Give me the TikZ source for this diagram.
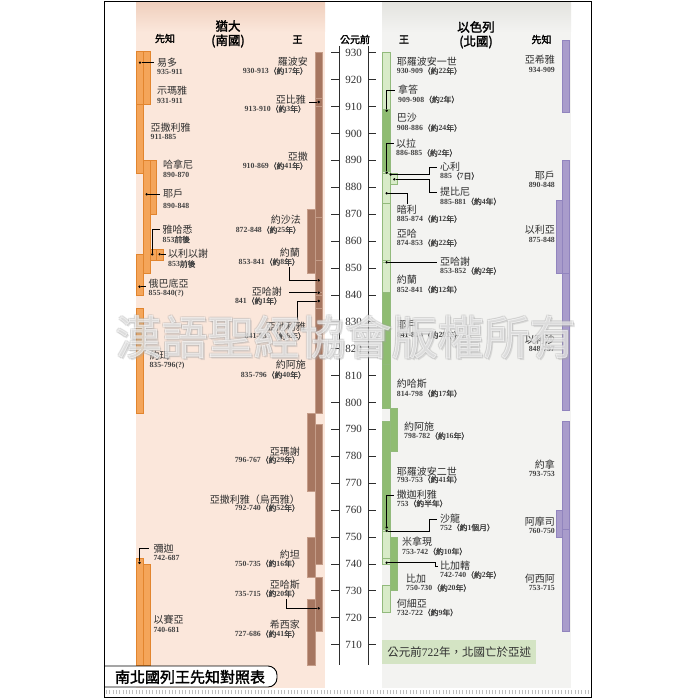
\documentclass[tikz,border=0pt]{standalone}
\usepackage{fontspec}
\setmainfont{Liberation Serif}
\newfontfamily\cjk{Noto Sans CJK TC}[AutoFakeBold=2]
\usetikzlibrary{calc}
\definecolor{pinkbg}{HTML}{FBE7DB}
\definecolor{pinktop}{HTML}{F0D0BE}
\definecolor{graybg}{HTML}{F3F3F1}
\definecolor{graytop}{HTML}{E4E4E0}
\definecolor{orF}{HTML}{F4A55A}
\definecolor{orD}{HTML}{E2852E}
\definecolor{brF}{HTML}{A67660}
\definecolor{brL}{HTML}{C49C88}
\definecolor{grL}{HTML}{D8EBC8}
\definecolor{grM}{HTML}{8FBC72}
\definecolor{grD}{HTML}{92BA7C}
\definecolor{puF}{HTML}{A99CCB}
\definecolor{puD}{HTML}{9184BE}
\definecolor{banner}{HTML}{D4E4C4}
\definecolor{txt}{HTML}{2E2E2E}
\newcommand\YY[1]{(52.7+(930-(#1))*2.69)}
\newcommand\dd[2]{#1{\cjk （約}#2{\cjk 年）}}
\newcommand\vb[5]{\draw[#1] (#2,{\YY{#4}}) rectangle (#3,{\YY{#5}});}
\newcommand\labE[6]{\node[kn,anchor=east] (n#1) at (#2,#3) {#4}; \node[kd,anchor=east] (t#1) at (#2,#5) {#6};}
\newcommand\labW[6]{\node[kn,anchor=west] (n#1) at (#2,#3) {#4}; \node[kd,anchor=west] (t#1) at (#2,#5) {#6};}
\begin{document}
\begin{tikzpicture}[x=1pt,y=-1pt,
  kn/.style={font=\cjk\fontsize{10}{12}\selectfont, inner sep=0pt, text=txt},
  kd/.style={font=\bfseries\fontsize{7.8}{10}\selectfont, inner sep=0pt, text=txt!90},
  hd/.style={font=\cjk\bfseries\fontsize{10}{12}\selectfont, inner sep=0pt, text=black},
  hb/.style={font=\cjk\bfseries\fontsize{12.5}{14}\selectfont, inner sep=0pt, text=black},
  dotm/.style={circle, fill=black, inner sep=0pt, minimum size=2.6pt},
  conn/.style={line width=0.55pt, black},
  orng/.style={fill=orF, draw=orD, line width=0.5pt},
  brn/.style={fill=brF, draw=brL, line width=0.4pt},
  gl/.style={fill=grL, draw=grD, line width=0.5pt},
  gd/.style={fill=grM, draw=grD, line width=0.5pt},
  pur/.style={fill=puF, draw=puD, line width=0.4pt},
  axl/.style={font=\fontsize{11}{12}\selectfont, inner sep=0pt, text=txt},
  wm/.style={font=\cjk\bfseries\fontsize{46}{48}\selectfont, inner sep=0pt},
]
\useasboundingbox (0,0) rectangle (700,700);
\fill[white] (0,0) rectangle (700,700);
% panels
\fill[pinkbg] (136,3) rectangle (325,688);
\shade[top color=pinktop,bottom color=pinkbg] (136,3) rectangle (325,32);
\fill[graybg] (382,3) rectangle (571,688);
\shade[top color=graytop,bottom color=graybg] (382,3) rectangle (571,32);
% headers
\node[hd] (hP1) at (165,38.5) {先知};
\node[hb] (hJ1) at (228,26) {猶大};
\node[hb] (hJ2) at (228,41) {(南國)};
\node[hd] (hK1) at (297.5,39.5) {王};
\node[hd] (hAx) at (355,39.5) {公元前};
\node[hd] (hK2) at (404,39.5) {王};
\node[hb] (hI1) at (476,27) {以色列};
\node[hb] (hI2) at (476,42) {(北國)};
\node[hd] (hP2) at (541.5,39.5) {先知};
% axis
\draw[txt, line width=0.6pt] (339,46) -- (339,665);
\draw[txt, line width=0.6pt] (368,46) -- (368,665);
\foreach \v in {930,920,...,710} {
  \draw[txt, line width=0.6pt] (331,{\YY{\v}}) -- (339,{\YY{\v}});
  \draw[txt, line width=0.6pt] (368,{\YY{\v}}) -- (376,{\YY{\v}});
  \node[axl] (y\v) at (353.5,{\YY{\v}}) {\v};
}
% ---------- Judah prophets bars
\vb{orng}{136.7}{143.3}{930.7}{911}
\vb{orng}{136.7}{143.3}{911}{885}
\vb{orng}{143.3}{150}{930.7}{911}
\vb{orng}{143.3}{150}{890}{848}
\vb{orng}{150}{156.7}{890}{870}
\vb{orng}{150}{156.7}{857}{852.7}
\vb{orng}{156.7}{163.3}{857}{852.7}
\vb{orng}{136.7}{143.3}{855}{840}
\vb{orng}{136.7}{143.3}{835}{796}
\vb{orng}{136.7}{143.3}{742}{702.4}
\vb{orng}{143.3}{150}{740}{702.4}
% ---------- Judah kings bars
\vb{brn}{315}{322.5}{930}{913}
\vb{brn}{315}{322.5}{913}{910}
\vb{brn}{315}{322.5}{910}{869}
\vb{brn}{315}{322.5}{869}{853}
\vb{brn}{315}{322.5}{853}{841}
\vb{brn}{315}{322.5}{841}{840}
\vb{brn}{315}{322.5}{840}{835}
\vb{brn}{315}{322.5}{835}{796}
\vb{brn}{315}{322.5}{792}{740}
\vb{brn}{315}{322.5}{735}{715}
\vb{brn}{307.3}{315}{872}{848}
\vb{brn}{307.3}{315}{796}{767}
\vb{brn}{307.3}{315}{750}{735}
\vb{brn}{307.3}{315}{727}{702.4}
% ---------- Israel kings bars
\vb{gl}{382.3}{390}{930}{909}
\vb{gd}{382.3}{390}{909}{886}
\vb{gl}{382.3}{390}{886}{885}
\vb{gl}{382.3}{390}{885}{874}
\vb{gl}{382.3}{390}{874}{853}
\vb{gl}{382.3}{390}{853}{852}
\vb{gl}{382.3}{390}{852}{841}
\vb{gd}{382.3}{390}{841}{814}
\vb{gd}{382.3}{390}{814}{798}
\vb{gd}{382.3}{390}{793}{753}
\vb{gl}{382.3}{390}{753}{752}
\vb{gl}{382.3}{390}{752}{742}
\vb{gl}{382.3}{390}{742}{740}
\vb{gl}{382.3}{390}{732}{722}
\vb{gl}{390}{397.7}{885}{881}
\vb{gd}{390}{397.7}{798}{782}
\vb{gd}{390}{397.7}{750}{730}
% ---------- Israel prophets bars
\vb{pur}{561.7}{569}{934.5}{908}
\vb{pur}{561.7}{569}{890}{848}
\vb{pur}{561.7}{569}{848}{797}
\vb{pur}{561.7}{569}{793}{753}
\vb{pur}{561.7}{569}{753}{715}
\vb{pur}{556}{562}{875}{848}
\vb{pur}{556}{562}{760}{750}
% ---------- banner
\node[fill=banner, minimum width=154pt, minimum height=24pt, anchor=west, inner sep=0pt,
      font=\cjk\fontsize{11.5}{12}\selectfont, text=txt] (ban) at (382,652) {公元前{\rmfamily 722}年，北國亡於亞述};
% ---------- Judah prophets labels
\labW{Iddo}{157}{62.5}{易多}{71.5}{935-911}
\labW{Shemaiah}{157}{91}{示瑪雅}{100.5}{931-911}
\labW{Azariah}{150.5}{127.5}{亞撒利雅}{137}{911-885}
\labW{Hanani}{163}{165}{哈拿尼}{175}{890-870}
\labW{JehuP}{163}{194}{耶戶}{205.5}{890-848}
\labW{Jahaziel}{162.5}{229.5}{雅哈悉}{239.5}{853{\cjk 前後}}
\labW{Eliezer}{168}{254}{以利以謝}{264}{853{\cjk 前後}}
\labW{Obadiah}{148.5}{284}{俄巴底亞}{293.5}{855-840(?)}
\labW{Joel}{149.3}{356}{約珥}{365.5}{835-796(?)}
\labW{Micah}{153.3}{548.3}{彌迦}{557.5}{742-687}
\labW{Isaiah}{153.3}{620}{以賽亞}{629.5}{740-681}
\node[dotm] (dIddo) at (140,62.7) {};
\node[dotm] (dJehuP) at (146.7,194.3) {};
\node[dotm] (dJahaziel) at (152.3,254.3) {};
\node[dotm] (dEliezer) at (159.6,254.3) {};
\node[dotm] (dObadiah) at (139.5,286.7) {};
\node[dotm] (dMicah) at (139.5,562.7) {};
\draw[conn] (dIddo) -- ($(dIddo -| nIddo.west)+(-3.5,0)$);
\draw[conn] (dJehuP) -- ($(dJehuP -| nJehuP.west)+(-3.5,0)$);
\draw[conn] (dJahaziel) |- ($(nJahaziel.west)+(-3,0)$);
\draw[conn] (dEliezer) -- ($(dEliezer -| nEliezer.west)+(-2.5,0)$);
\draw[conn] (dObadiah) -- ($(dObadiah -| nObadiah.west)+(-2.5,0)$);
\draw[conn] (dMicah) |- ($(nMicah.west)+(-4,0)$);
% ---------- Judah kings labels
\labE{Rehoboam}{308}{61.5}{羅波安}{71}{\dd{930-913}{17}}
\labE{Abijah}{306}{100}{亞比雅}{109}{\dd{913-910}{3}}
\labE{Asa}{308}{157}{亞撒}{166}{\dd{910-869}{41}}
\labE{Jehoshaphat}{301}{220}{約沙法}{230}{\dd{872-848}{25}}
\labE{JoramJ}{300}{252.5}{約蘭}{262}{\dd{853-841}{8}}
\labE{AhaziahJ}{282}{292}{亞哈謝}{301}{\dd{841}{1}}
\labE{Athaliah}{306}{326.5}{亞他利雅}{336}{\dd{841-835}{6}}
\labE{JoashJ}{306}{365}{約阿施}{375}{\dd{835-796}{40}}
\labE{Amaziah}{300}{451.5}{亞瑪謝}{460}{\dd{796-767}{29}}
\labE{Uzziah}{300}{499.5}{亞撒利雅（烏西雅）}{508}{\dd{792-740}{52}}
\labE{Jotham}{300}{554.5}{約坦}{563.5}{\dd{750-735}{16}}
\labE{Ahaz}{300}{584.5}{亞哈斯}{593.5}{\dd{735-715}{20}}
\labE{Hezekiah}{300}{624.5}{希西家}{634}{\dd{727-686}{41}}
\node[dotm] (dAbijah) at (318.7,102) {};
\node[dotm] (dJoramJ) at (318.7,280.3) {};
\node[dotm] (dAhaziahJ) at (318.7,292.7) {};
\node[dotm] (dAthaliah) at (318.7,301) {};
\node[dotm] (dAhaz) at (318.7,608.3) {};
\draw[conn] (dAbijah) -- ($(dAbijah -| nAbijah.east)+(3,0)$);
\draw[conn] (dJoramJ) -| ($(tJoramJ.south east)+(-11,1.5)$);
\draw[conn] (dAhaziahJ) -- ($(dAhaziahJ -| nAhaziahJ.east)+(7,0)$);
\draw[conn] (dAthaliah) -| ($(nAthaliah.north east)+(-9,-2)$);
\draw[conn] (dAhaz) -| ($(tAhaz.south east)+(-14,1.5)$);
% ---------- Israel kings labels
\labW{JeroboamI}{396.7}{61.5}{耶羅波安一世}{71}{\dd{930-909}{22}}
\labW{Nadab}{398}{90}{拿答}{99.5}{\dd{909-908}{2}}
\labW{Baasha}{396.7}{118}{巴沙}{128}{\dd{908-886}{24}}
\labW{Elah}{396}{143.5}{以拉}{153}{\dd{886-885}{2}}
\labW{Zimri}{440}{167}{心利}{176}{885{\cjk （}7{\cjk 日）}}
\labW{Tibni}{440}{192}{提比尼}{201.5}{\dd{885-881}{4}}
\labW{Omri}{396.7}{209.5}{暗利}{219}{\dd{885-874}{12}}
\labW{Ahab}{396.7}{233.5}{亞哈}{243}{\dd{874-853}{22}}
\labW{AhaziahI}{440}{262}{亞哈謝}{271}{\dd{853-852}{2}}
\labW{JoramI}{396.7}{280}{約蘭}{289.5}{\dd{852-841}{12}}
\labW{JehuK}{396.7}{325}{耶戶}{335}{\dd{841-814}{28}}
\labW{Jehoahaz}{396.7}{383.5}{約哈斯}{393.5}{\dd{814-798}{17}}
\labW{JoashI}{404}{427}{約阿施}{436}{\dd{798-782}{16}}
\labW{JeroboamII}{396.7}{471.5}{耶羅波安二世}{479.5}{\dd{793-753}{41}}
\labW{Zechariah}{396.7}{495}{撒迦利雅}{503.5}{753{\cjk （約半年）}}
\labW{Shallum}{440}{519}{沙龍}{527.5}{752{\cjk （約}1{\cjk 個月）}}
\labW{Menahem}{402}{541.5}{米拿現}{551.5}{\dd{753-742}{10}}
\labW{Pekahiah}{440}{566}{比加轄}{575}{\dd{742-740}{2}}
\labW{Pekah}{406}{578.5}{比加}{588}{\dd{750-730}{20}}
\labW{Hoshea}{396.7}{603.5}{何細亞}{612.5}{\dd{732-722}{9}}
\node[dotm] (dNadab) at (386.7,110.7) {};
\node[dotm] (dElah) at (386.7,172.7) {};
\node[dotm] (dZimri) at (390.7,174.5) {};
\node[dotm] (dTibni) at (394.3,179.3) {};
\node[dotm] (dOmri) at (386.7,193.3) {};
\node[dotm] (dAhaziahI) at (386.7,262.3) {};
\node[dotm] (dZechariah) at (386.7,527.3) {};
\node[dotm] (dShallum) at (386.7,530.8) {};
\node[dotm] (dPekahiah) at (386.7,562.7) {};
\draw[conn] (dNadab) |- ($(nNadab.west)+(-3,0)$);
\draw[conn] (dElah) |- ($(nElah.west)+(-2,0)$);
\draw[conn] (dZimri) -| ($(nZimri.west)+(-11,0)$) -- ($(nZimri.west)+(-3,0)$);
\draw[conn] (dTibni) -| ($(nTibni.west)+(-11,0)$) -- ($(nTibni.west)+(-3,0)$);
\draw[conn] (dOmri) -| ($(nOmri.north west)+(10.6,-1)$);
\draw[conn] (dAhaziahI) -- ($(dAhaziahI -| nAhaziahI.west)+(-3,0)$);
\draw[conn] (dZechariah) |- ($(nZechariah.west)+(-3,0)$);
\draw[conn] (dShallum) -| ($(nShallum.west)+(-11,0)$) -- ($(nShallum.west)+(-3,0)$);
\draw[conn] (dPekahiah) -| ($(nPekahiah.west)+(-4.5,0)$) -- ($(nPekahiah.west)+(-2,0)$);
% ---------- Israel prophets labels
\labE{Ahijah}{555}{60}{亞希雅}{69.5}{934-909}
\labE{JehuPI}{555}{175.5}{耶戶}{184.5}{890-848}
\labE{Elijah}{555}{230}{以利亞}{239.5}{875-848}
\labE{Elisha}{555}{340}{以利沙}{349}{848-797}
\labE{Jonah}{555}{465}{約拿}{473.5}{793-753}
\labE{Amos}{555}{522}{阿摩司}{531}{760-750}
\labE{Hosea}{555}{578.5}{何西阿}{588}{753-715}
% ---------- watermark (semi-transparent)
\foreach \dx/\dy in {1.6/1.6, 0.8/-0.8, -0.8/0.8, -0.8/-0.8, 0.8/0.8} {
  \node[wm, text=gray!70, opacity=0.2] at ({345.5+\dx},{337+\dy}) {漢語聖經協會版權所有};
}
\node[wm, text=white, opacity=0.5] (wmk) at (345.5,337) {漢語聖經協會版權所有};
% ---------- title tab, ruler, frame
\draw[black, line width=0.9pt, fill=white, rounded corners=9pt] (105,666) -- (277,666) -- (277,687) -- (105,687);
\node[font=\cjk\bfseries\fontsize{15}{16}\selectfont, inner sep=0pt] (ttl) at (190,677) {南北國列王先知對照表};
\draw[gray!50, line width=4.5pt, dash pattern=on 1pt off 2.3pt] (106,692) -- (591,692);
\draw[black, line width=1pt] (104.5,1.5) rectangle (591.5,697.5);
\end{tikzpicture}
\end{document}
